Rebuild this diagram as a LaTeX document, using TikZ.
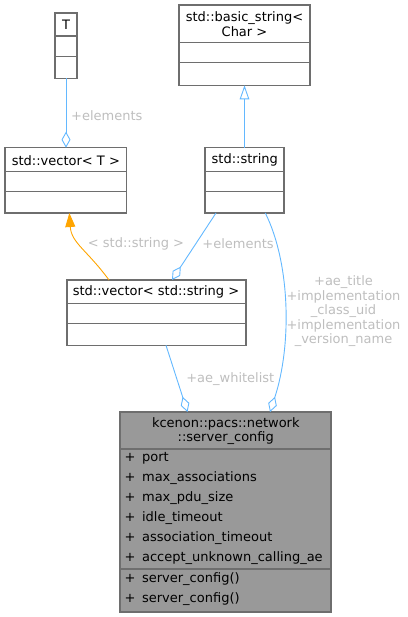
\documentclass[tikz,border=0pt]{standalone}
\usepackage{fontspec}
\setmainfont{DejaVu Sans}
\usetikzlibrary{arrows.meta, positioning, calc}
\definecolor{edgeblue}{RGB}{99, 184, 255}
\definecolor{tmplorange}{RGB}{255, 165, 0}
\definecolor{labelgrey}{RGB}{190, 190, 190}
\definecolor{boxgrey}{RGB}{110, 110, 110}
\definecolor{mainfill}{RGB}{153, 153, 153}

\begin{document}
\begin{tikzpicture}[x=1pt, y=-1pt,
  font=\fontsize{13}{14.6}\selectfont,
  classbox/.style={draw=boxgrey, line width=1.1pt, fill=white, inner sep=0pt, outer sep=0pt},
  boxline/.style={draw=boxgrey, line width=1.1pt},
  member/.style={anchor=west, inner sep=0pt},
  edgelabel/.style={text=labelgrey, inner sep=0pt, align=center},
  agg/.style={draw=edgeblue, line width=0.9pt, -{Diamond[open, length=16pt, width=9pt]}},
  inh/.style={draw=edgeblue, line width=0.9pt, -{Triangle[open, length=14pt, width=9.5pt]}},
  tmpl/.style={draw=tmplorange, line width=0.9pt, -{Triangle[length=14pt, width=10pt]}}]
  \useasboundingbox (0,0) rectangle (407,617);

  % Class boxes
  \node[classbox, minimum width=22pt, minimum height=65.3pt] (T) at (66, 45.65) {};
  \node (Ttitle) at (66, 24.5) {T};
  \node[classbox, minimum width=131pt, minimum height=80.3pt] (basic) at (244.5, 45.15) {};
  \node[align=center, inner sep=0pt] (basictitle) at (244.5, 24.2) {std::basic\_string<\\Char >};
  \node[classbox, minimum width=121.7pt, minimum height=65.3pt] (vecT) at (65.85, 180.35) {};
  \node (vecTtitle) at (65.85, 160.3) {std::vector< T >};
  \node[classbox, minimum width=79pt, minimum height=65.3pt] (string) at (244.5, 180.35) {};
  \node (stringtitle) at (244.8, 160.3) {std::string};
  \node[classbox, minimum width=179pt, minimum height=65.3pt] (vecstr) at (156.5, 312.65) {};
  \node (vecstrtitle) at (156, 292) {std::vector< std::string >};

  % Compartment lines
  \foreach \b/\d in {T/23, T/43.7, vecT/24, vecT/44, string/24, string/44,
                     vecstr/23.7, vecstr/43.7, basic/37.7, basic/57.7}
    \draw[boxline] ([yshift=-\d pt]\b.north west) -- ([yshift=-\d pt]\b.north east);

  % Main class
  \node[classbox, fill=mainfill, minimum width=211pt, minimum height=200pt] (server) at (225.5, 512) {};
  \node[align=center, inner sep=0pt] (servertitle) at (225.8, 431) {kcenon::pacs::network\\::server\_config};
  \draw[boxline] ([yshift=-37pt]server.north west) -- ([yshift=-37pt]server.north east);
  \draw[boxline] ([yshift=-157pt]server.north west) -- ([yshift=-157pt]server.north east);
  \foreach \m [count=\i from 0] in {port, max\_associations, max\_pdu\_size, idle\_timeout,
                                    association\_timeout, accept\_unknown\_calling\_ae}
    \node[member] (attr\i) at (124.5, {458.4+19.9*\i}) {+\hspace{6.5pt}\m};
  \foreach \i in {0,1}
    \node[member] (meth\i) at (124.5, {579.3+19.7*\i}) {+\hspace{6.5pt}server\_config()};

  % Relations
  \draw[agg] (T.south) -- (T.south |- vecT.north);
  \draw[inh] (string.north) -- (basic.south);
  \draw[tmpl] ([xshift=42pt]vecstr.north west) .. controls +(-22,-30) and +(2,30) .. ([xshift=3.5pt]vecT.south);
  \draw[agg] ([xshift=11pt]string.south west) -- ([xshift=105pt]vecstr.north west);
  \draw[agg] ([xshift=60.3pt]string.south west) .. controls +(25,50) and +(22,-67) .. ([xshift=150pt]server.north west);
  \draw[agg] ([xshift=99pt]vecstr.south west) -- ([xshift=67.5pt]server.north west);

  % Edge labels
  \node[edgelabel, anchor=west] (lblTelem) at (71, 115.7) {+elements};
  \node[edgelabel] (lbltmpl) at (136, 243.7) {< std::string >};
  \node[edgelabel] (lblvelem) at (238, 243.7) {+elements};
  \node[edgelabel] (lblae) at (343.5, 311.3) {+ae\_title\\+implementation\\\_class\_uid\\+implementation\\\_version\_name};
  \node[edgelabel] (lblwhite) at (230.3, 379) {+ae\_whitelist};
\end{tikzpicture}
\end{document}
